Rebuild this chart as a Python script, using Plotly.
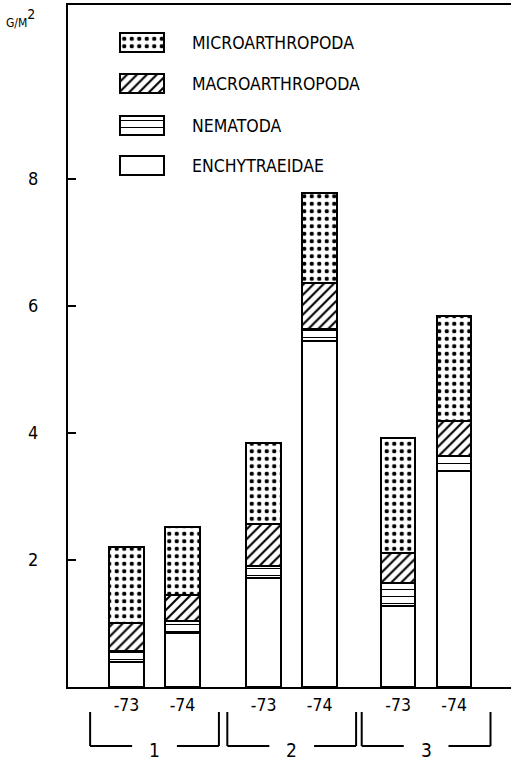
import plotly.graph_objects as go

# ---------------- data ----------------
group_labels = ["1", "2", "3"]
year_labels = ["-73", "-74", "-73", "-74", "-73", "-74"]
bar_pos = [0.0, 1.0, 2.45, 3.45, 4.85, 5.85]
enchytraeidae = [0.39, 0.85, 1.71, 5.45, 1.28, 3.40]
nematoda = [0.17, 0.19, 0.19, 0.18, 0.36, 0.24]
macroarthropoda = [0.45, 0.40, 0.66, 0.73, 0.47, 0.54]
microarthropoda = [1.20, 1.07, 1.28, 1.41, 1.80, 1.65]
y_ticks = [2, 4, 6, 8]
y_tick_text = ["2", "4", "6", "8"]

# ---------------- layout constants ----------------
W, H = 511, 765
ML, MR, MT, MB = 68, 0, 5, 78
XR = [-1.045, 6.866]
YR = [0, 10.73]
FONT = "DejaVu Sans Condensed, Liberation Sans Narrow, sans-serif"
BAR_W = 0.62

series = [
    ("ENCHYTRAEIDAE", enchytraeidae, dict(shape="", size=6, solidity=0.2)),
    ("NEMATODA", nematoda, dict(shape="-", size=7, solidity=0.15)),
    ("MACROARTHROPODA", macroarthropoda, dict(shape="/", size=7, solidity=0.3)),
    ("MICROARTHROPODA", microarthropoda, dict(shape=".", size=7.5, solidity=0.27)),
]


def marker_for(pat):
    m = dict(color="white", line=dict(color="black", width=2))
    if pat["shape"]:
        m["pattern"] = dict(fgcolor="black", bgcolor="white", fillmode="replace", **pat)
    return m


fig = go.Figure()
for name, vals, pat in series:
    fig.add_trace(go.Bar(
        x=bar_pos, y=vals, name=name, width=BAR_W,
        marker=marker_for(pat),
        showlegend=False, hoverinfo="skip",
    ))

# ---------------- custom legend (overlay axes in pixel units) ----------------
legend_rows = {"MICROARTHROPODA": 42.5, "MACROARTHROPODA": 83.5, "NEMATODA": 125.5, "ENCHYTRAEIDAE": 165.5}
sw_left = 120
for name, vals, pat in series:
    yc = legend_rows[name]
    fig.add_trace(go.Bar(
        y=[yc], x=[44], orientation="h", width=19,
        xaxis="x2", yaxis="y2",
        marker=marker_for(pat),
        showlegend=False, hoverinfo="skip",
    ))

annotations = []
for name, yc in legend_rows.items():
    annotations.append(dict(x=190 - sw_left, y=yc, xref="x2", yref="y2", text=name,
                            showarrow=False, xanchor="left", yanchor="middle",
                            font=dict(family=FONT, size=17.5, color="black")))

PH = H - MT - MB
PW = W - ML - MR


def py2paper(py):
    return (H - MB - py) / PH


def px2paper(px):
    return (px - ML) / PW


def x2paper(xv):
    return (xv - XR[0]) / (XR[1] - XR[0])


# y-axis unit label
annotations.append(dict(x=px2paper(4), y=py2paper(18), xref="paper", yref="paper",
                        text="<span style='font-size:12px'>G/M</span><sup>2</sup>",
                        showarrow=False, xanchor="left", yanchor="middle",
                        font=dict(family=FONT, size=20, color="black")))

# ---------------- group brackets ----------------
shapes = []
y_top = py2paper(712)
y_bot = py2paper(746)
line = dict(color="black", width=2)
for gi, lab in enumerate(group_labels):
    c = (bar_pos[2 * gi] + bar_pos[2 * gi + 1]) / 2
    xl, xr = x2paper(c - 1.15), x2paper(c + 1.15)
    gl, gr = x2paper(c - 0.4), x2paper(c + 0.4)
    shapes += [
        dict(type="line", xref="paper", yref="paper", x0=xl, x1=xl, y0=y_top, y1=y_bot, line=line),
        dict(type="line", xref="paper", yref="paper", x0=xl, x1=gl, y0=y_bot, y1=y_bot, line=line),
        dict(type="line", xref="paper", yref="paper", x0=gr, x1=xr, y0=y_bot, y1=y_bot, line=line),
        dict(type="line", xref="paper", yref="paper", x0=xr, x1=xr, y0=y_top, y1=y_bot, line=line),
    ]
    annotations.append(dict(x=x2paper(c), y=py2paper(750), xref="paper", yref="paper",
                            text=lab, showarrow=False, xanchor="center", yanchor="middle",
                            font=dict(family=FONT, size=19, color="black")))

fig.update_layout(
    width=W, height=H,
    margin=dict(l=ML, r=MR, t=MT, b=MB, pad=0),
    paper_bgcolor="white", plot_bgcolor="white",
    barmode="stack", bargap=0,
    showlegend=False,
    font=dict(family=FONT, size=17, color="black"),
    xaxis=dict(range=XR, tickmode="array", tickvals=bar_pos, ticktext=year_labels,
               showgrid=False, zeroline=False, showline=True, linecolor="black", linewidth=2,
               mirror=True, ticks="", ticklabelstandoff=1,
               tickfont=dict(family=FONT, size=17.5, color="black")),
    yaxis=dict(range=YR, tickmode="array", tickvals=y_ticks, ticktext=y_tick_text,
               showgrid=False, zeroline=False, showline=True, linecolor="black", linewidth=2,
               ticks="inside", ticklen=8, tickwidth=2, tickcolor="black",
               ticklabelstandoff=24,
               tickfont=dict(family=FONT, size=18, color="black")),
    xaxis2=dict(overlaying="x", range=[ML - sw_left, W - sw_left], visible=False, fixedrange=True),
    yaxis2=dict(overlaying="y", range=[H - MB, MT], visible=False, fixedrange=True),
    shapes=shapes,
    annotations=annotations,
)

fig.write_html("out.html",
               config={"displayModeBar": False, "staticPlot": True},
               post_script="document.body.style.margin='0';document.body.style.padding='0';")
